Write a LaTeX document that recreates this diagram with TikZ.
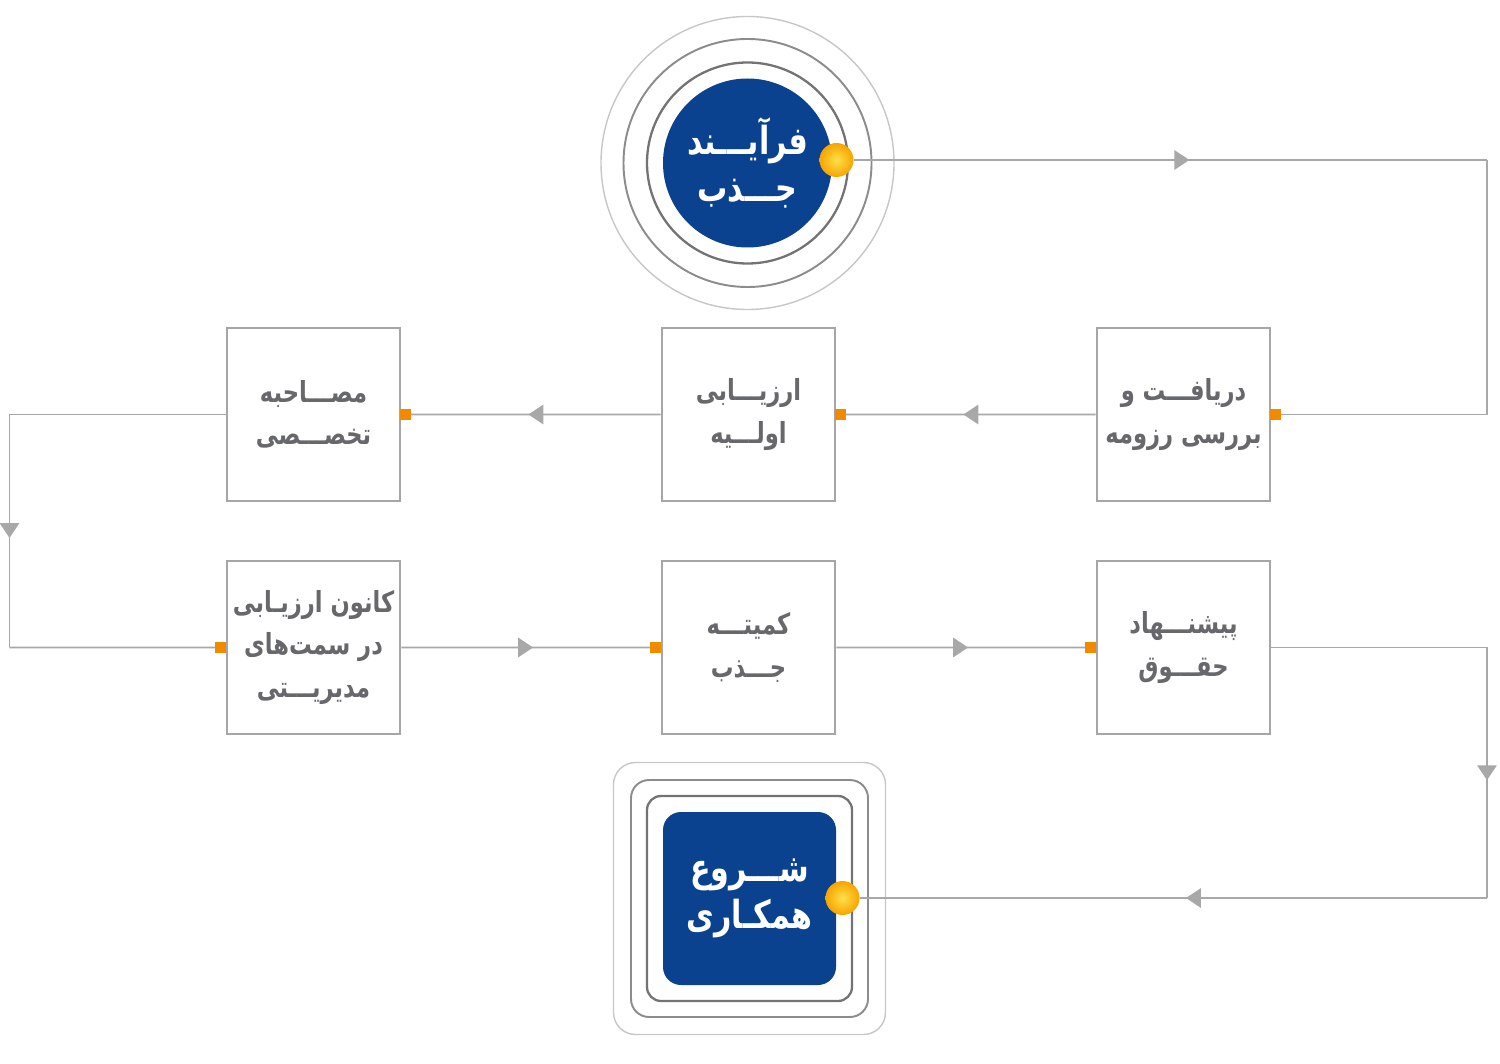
\documentclass[tikz,border=0pt]{standalone}
\usepackage{fontspec}
\newfontfamily\arabicfont[Script=Arabic, FakeStretch=0.78]{DejaVu Sans}
\TeXXeTstate=1
\usetikzlibrary{arrows.meta, decorations.markings, positioning}
\definecolor{jazbblue}{HTML}{0B428F}
\definecolor{boxgray}{HTML}{A6A6A6}
\definecolor{linegray}{HTML}{A8A8A8}
\definecolor{textgray}{HTML}{67686C}
\definecolor{dotorange}{HTML}{F28A00}
\definecolor{ballyellow}{HTML}{FFE04A}
\definecolor{ballorange}{HTML}{F7A400}
\newcommand{\rl}[1]{\beginR #1\endR}

\begin{document}
\begin{tikzpicture}[scale=0.2]
\tikzstyle{every node}+=[inner sep=0pt]
\tikzset{
  stepbox/.style={draw=boxgray, line width=1.6pt, fill=white, minimum width=3.46cm, minimum height=3.46cm, align=center, text=textgray, font=\arabicfont\bfseries\fontsize{16.5}{24}\selectfont},
  bluebox/.style={fill=jazbblue, align=center, text=white, font=\arabicfont\bfseries\fontsize{22}{27}\selectfont},
  port/.style={fill=dotorange, minimum size=0.22cm},
  ball/.style={circle, minimum size=0.68cm, shading=radial, inner color=ballyellow, outer color=ballorange},
  flow/.style={draw=linegray, line width=1.1pt},
  midarrow/.style={postaction={decorate, decoration={markings, mark=at position #1 with {\arrow[linegray]{Triangle[length=8.5pt,width=11pt]}}}}},
  midarrow/.default=0.53
}
\useasboundingbox (0,0) rectangle (150,-106.4);
\draw [black!22, line width=0.8pt] (74.75,-16.3) circle (14.65);
\draw [black!45, line width=1.1pt] (74.75,-16.3) circle (12.4);
\draw [black!55, line width=1.3pt] (74.75,-16.3) circle (10.05);
\node [bluebox, circle, minimum size=3.38cm] (start) at (74.75,-16.3) {\rl{فرآیـــند}\\\rl{جـــذب}};
\node [ball] (startdot) at (83.65,-16.0) {};
\draw [black!22, line width=0.8pt, rounded corners=0.44cm] (61.35,-76.25) rectangle (88.55,-103.45);
\draw [black!45, line width=1.1pt, rounded corners=0.36cm] (63.1,-78.0) rectangle (86.8,-101.7);
\draw [black!55, line width=1.3pt, rounded corners=0.28cm] (64.7,-79.6) rectangle (85.2,-100.1);
\node [bluebox, rounded corners=0.36cm, minimum size=3.46cm] (finish) at (74.95,-89.85) {\rl{شـــروع}\\\rl{همکـاری}};
\node [ball] (finishdot) at (84.25,-89.8) {};
\node [stepbox] (resume) at (118.35,-41.45) {\rl{دریافـــت و}\\\rl{بررسی رزومه}};
\node [stepbox] (screen) at (74.85,-41.45) {\rl{ارزیـــابی}\\\rl{اولـــیه}};
\node [stepbox] (interview) at (31.35,-41.45) {\rl{مصـــاحبه}\\\rl{تخصـــصی}};
\node [stepbox] (assess) at (31.35,-64.75) {\rl{کانون ارزیـابی}\\\rl{در سمت‌های}\\\rl{مدیریـــتی}};
\node [stepbox] (committee) at (74.85,-64.75) {\rl{کمیتـــه}\\\rl{جـــذب}};
\node [stepbox] (salary) at (118.35,-64.75) {\rl{پیشنـــهاد}\\\rl{حقـــوق}};
\node [port, right=-0.04cm of resume.east] (resumeport) {};
\node [port, right=-0.04cm of screen.east] (screenport) {};
\node [port, right=-0.04cm of interview.east] (interviewport) {};
\node [port, left=-0.02cm of assess.west] (assessport) {};
\node [port, left=-0.02cm of committee.west] (committeeport) {};
\node [port, left=-0.02cm of salary.west] (salaryport) {};
\coordinate (rtop) at (148.7,-16.0);
\coordinate (ltop) at (0.95,-41.45);
\coordinate (lbot) at (0.95,-64.75);
\coordinate (rmid) at (148.7,-64.75);
\coordinate (rbot) at (148.7,-89.8);
\draw [flow, midarrow] (startdot) -- (rtop);
\draw [flow] (rtop) |- (resumeport);
\draw [flow, midarrow] (resume.west) -- (screenport);
\draw [flow, midarrow] (screen.west) -- (interviewport);
\draw [flow] (interview.west) -- (ltop);
\draw [flow, midarrow] (ltop) -- (lbot);
\draw [flow] (lbot) -- (assessport);
\draw [flow, midarrow] (assess.east) -- (committeeport);
\draw [flow, midarrow] (committee.east) -- (salaryport);
\draw [flow] (salary.east) -- (rmid);
\draw [flow, midarrow] (rmid) -- (rbot);
\draw [flow, midarrow=0.48] (rbot) -- (finishdot);
\end{tikzpicture}
\end{document}
